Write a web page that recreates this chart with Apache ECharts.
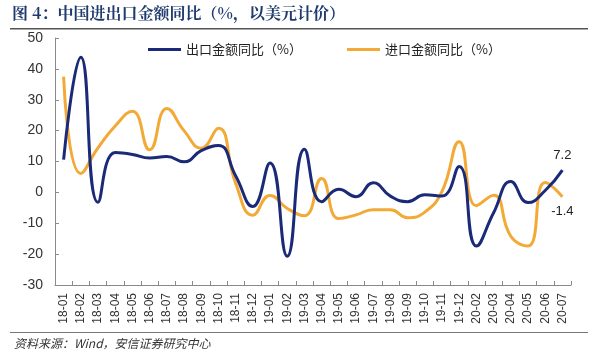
<!DOCTYPE html>
<html>
<head>
<meta charset="utf-8">
<script src="https://cdn.jsdelivr.net/npm/echarts@6/dist/echarts.min.js"></script>
<style>
html,body{margin:0;padding:0;background:#fff;}
#c{width:600px;height:356px;}
</style>
</head>
<body>
<div id="c"></div>
<script>
const categories = ['18-01','18-02','18-03','18-04','18-05','18-06','18-07','18-08','18-09','18-10','18-11','18-12',
  '19-01','19-02','19-03','19-04','19-05','19-06','19-07','19-08','19-09','19-10','19-11','19-12',
  '20-02','20-03','20-04','20-05','20-06','20-07'];
const exportYoY = [10.6, 43.8, -3.2, 12.9, 12.3, 11.1, 11.6, 9.9, 13.5, 15.2, 5.4, -4.6,
  9.5, -20.7, 14.0, -3.0, 1.0, -1.4, 3.1, -1.2, -3.0, -0.8, -1.2, 8.4,
  -17.4, -6.6, 3.5, -3.3, 0.6, 7.2];
const importYoY = [37.5, 6.1, 14.4, 21.5, 26.3, 13.8, 27.2, 20.0, 14.3, 20.8, 3.0, -7.4,
  -1.0, -5.2, -7.6, 4.5, -8.5, -7.3, -5.6, -5.6, -8.2, -6.4, 0.3, 16.4,
  -4.3, -0.9, -14.2, -17.4, 3.2, -1.4];
const yTicks = {min: -30, max: 50, interval: 10};
const exportName = '出口金额同比（%）';
const importName = '进口金额同比（%）';
const titleText = '图 4：中国进出口金额同比（%，以美元计价）';
const sourceText = '资料来源：Wind，安信证券研究中心';

const navy = '#1b2a78';
const orange = '#f2a935';
const axisColor = '#8a8a8a';
const textColor = '#333';

const chart = echarts.init(document.getElementById('c'));
function lastLabel(arr, pos) {
  return arr.map((v, i) => i === arr.length - 1 ? {value: v, label: {show: true, position: pos, distance: 8, color: '#222', fontSize: 13, fontFamily: 'Liberation Sans, Arial', formatter: String(v)}} : v);
}
chart.setOption({
  animation: false,
  graphic: [
    {type: 'text', left: 12, top: 5, style: {text: titleText, font: 'bold 16px "Noto Serif CJK SC","Noto Sans CJK SC"', fill: '#1f3b6e'}},
    {type: 'rect', shape: {x: 10, y: 28, width: 578, height: 1.5}, style: {fill: '#555'}},
    {type: 'rect', shape: {x: 10, y: 332, width: 578, height: 1}, style: {fill: '#777'}},
    {type: 'text', left: 14, top: 337, style: {text: sourceText, font: 'italic 12px "Noto Sans CJK SC"', fill: '#333'}}
  ],
  legend: [
    {data: [exportName], left: 143, top: 38, itemWidth: 33, itemHeight: 3, itemGap: 4, icon: 'rect',
     textStyle: {fontSize: 13, color: '#222', fontFamily: 'Noto Sans CJK SC'}},
    {data: [importName], left: 342, top: 38, itemWidth: 33, itemHeight: 3, itemGap: 4, icon: 'rect',
     textStyle: {fontSize: 13, color: '#222', fontFamily: 'Noto Sans CJK SC'}}
  ],
  grid: {left: 55, right: 29, top: 38, bottom: 71},
  xAxis: [
    {type: 'category', data: categories, boundaryGap: true, position: 'bottom',
     axisLine: {show: false}, axisTick: {show: false},
     axisLabel: {rotate: 90, interval: 0, fontSize: 12, color: textColor, fontFamily: 'Liberation Sans, Arial', margin: 8}},
    {type: 'category', data: categories, boundaryGap: true, position: 'bottom',
     axisLine: {show: true, onZero: true, lineStyle: {color: axisColor, width: 1}},
     axisTick: {show: true, inside: true, length: 4, interval: 0, lineStyle: {color: axisColor}},
     axisLabel: {show: false}}
  ],
  yAxis: {type: 'value', min: yTicks.min, max: yTicks.max, interval: yTicks.interval,
    splitLine: {show: false},
    axisLine: {show: true, lineStyle: {color: axisColor}},
    axisTick: {show: true, inside: true, length: 4, lineStyle: {color: axisColor}},
    axisLabel: {fontSize: 14, color: textColor, fontFamily: 'Liberation Sans, Arial', margin: 12}},
  series: [
    {name: exportName, type: 'line', xAxisIndex: 0, data: lastLabel(exportYoY, 'top'), smooth: 0.5,
     symbol: 'circle', symbolSize: 0, showSymbol: true,
     lineStyle: {color: navy, width: 3}, itemStyle: {color: navy}, z: 3},
    {name: importName, type: 'line', xAxisIndex: 0, data: lastLabel(importYoY, 'bottom'), smooth: 0.5,
     symbol: 'circle', symbolSize: 0, showSymbol: true,
     lineStyle: {color: orange, width: 3}, itemStyle: {color: orange}, z: 2}
  ]
});
</script>
</body>
</html>
